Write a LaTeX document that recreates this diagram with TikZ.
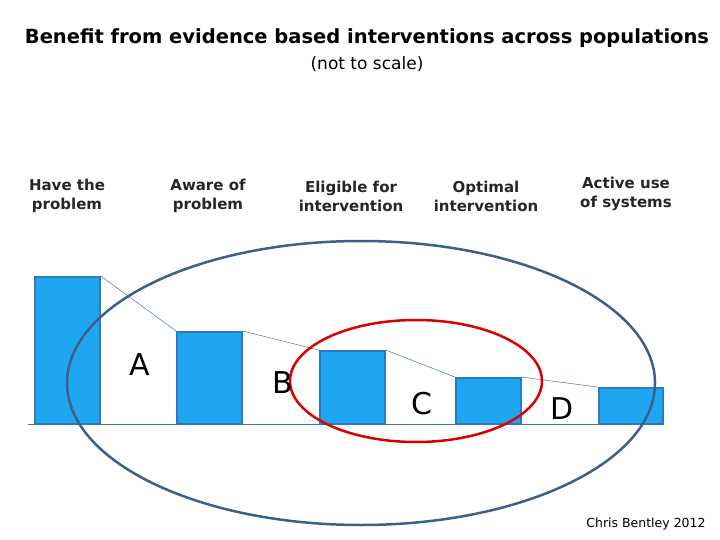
\documentclass[tikz,border=0pt]{standalone}
\usepackage{fontspec}
\usetikzlibrary{shapes.geometric}
\setmainfont{DejaVu Sans}
\begin{document}
\begin{tikzpicture}[x=1pt,y=-1pt,
  bar/.style={draw=barb,fill=barf,line width=1.8pt},
  lbl/.style={align=center,font=\fontsize{15}{19}\selectfont\bfseries,text=black!85},
  let/.style={font=\fontsize{30}{30}\selectfont},
  conn/.style={draw=linec,line width=0.5pt}]
\definecolor{barf}{HTML}{1EA7F0}
\definecolor{barb}{HTML}{2C7BC0}
\definecolor{linec}{HTML}{4A74A8}
\definecolor{ell}{HTML}{3E5F8A}
\useasboundingbox (0,0) rectangle (720,540);
\draw[conn] (28,424) -- (663,424);
\node[bar,minimum width=65pt,minimum height=147pt,inner sep=0pt] (b1) at (67.5,350.5) {};
\node[bar,minimum width=65pt,minimum height=92pt,inner sep=0pt] (b2) at (209.5,378) {};
\node[bar,minimum width=65pt,minimum height=73pt,inner sep=0pt] (b3) at (352.5,387.5) {};
\node[bar,minimum width=65pt,minimum height=46pt,inner sep=0pt] (b4) at (488.5,401) {};
\node[bar,minimum width=64pt,minimum height=36pt,inner sep=0pt] (b5) at (631,406) {};
\draw[conn] (b1.north east) -- (b2.north west);
\draw[conn] (b2.north east) -- (b3.north west);
\draw[conn] (b3.north east) -- (b4.north west);
\draw[conn] (b4.north east) -- (b5.north west);
\node[draw=ell,line width=2.5pt,ellipse,minimum width=588pt,minimum height=284pt,inner sep=0pt] (e1) at (361,383) {};
\node[draw=red!85!black,line width=2.5pt,ellipse,minimum width=252pt,minimum height=122pt,inner sep=0pt] (e2) at (416,381) {};
\node[let] (A) at (140,365) {A};
\node[let] (B) at (283,383) {B};
\node[let] (C) at (422,404) {C};
\node[let] (D) at (562,409) {D};
\node[lbl] (l1) at (67,196) {Have the\\problem};
\node[lbl] (l2) at (208,196) {Aware of\\problem};
\node[lbl] (l3) at (351,196) {Eligible for\\intervention};
\node[lbl] (l4) at (486,196) {Optimal\\intervention};
\node[lbl] (l5) at (626,194) {Active use\\of systems};
\node[font=\fontsize{19.5}{22}\selectfont\bfseries] (t) at (367,38) {Benefit from evidence based interventions across populations};
\node[font=\fontsize{17}{20}\selectfont] (s) at (367,64) {(not to scale)};
\node[font=\fontsize{12.5}{14}\selectfont] (c) at (646,524) {Chris Bentley 2012};
\end{tikzpicture}
\end{document}
